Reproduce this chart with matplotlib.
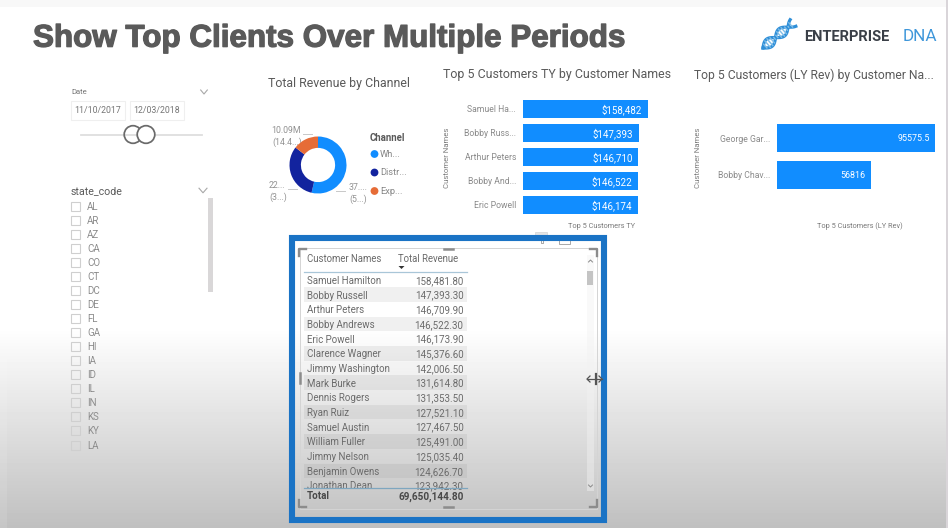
import numpy as np
import matplotlib
matplotlib.use("Agg")
import matplotlib.pyplot as plt
import matplotlib.patheffects as pe
from matplotlib.patches import Rectangle, Circle, Polygon

plt.rcParams['font.family'] = ['Roboto', 'DejaVu Sans']

W, H = 948, 528

# ---------- data ----------
channels = ["Wh...", "Distr...", "Exp..."]
channel_values = [37.36, 22.20, 10.09]
channel_colors = ["#118DFF", "#12239E", "#E66C37"]

ty_names = ["Samuel Ha...", "Bobby Russ...", "Arthur Peters", "Bobby And...", "Eric Powell"]
ty_values = [158482, 147393, 146710, 146522, 146174]
ty_labels = ["$158,482", "$147,393", "$146,710", "$146,522", "$146,174"]

ly_names = ["George Gar...", "Bobby Chav..."]
ly_values = [95575.5, 56816]
ly_labels = ["95575.5", "56816"]

table_names = ["Samuel Hamilton", "Bobby Russell", "Arthur Peters", "Bobby Andrews", "Eric Powell",
               "Clarence Wagner", "Jimmy Washington", "Mark Burke", "Dennis Rogers", "Ryan Ruiz",
               "Samuel Austin", "William Fuller", "Jimmy Nelson", "Benjamin Owens", "Jonathan Dean"]
table_revenue = ["158,481.80", "147,393.30", "146,709.90", "146,522.30", "146,173.90",
                 "145,376.60", "142,006.50", "131,614.80", "131,353.50", "127,521.10",
                 "127,467.50", "125,491.00", "125,035.40", "124,626.70", "123,942.30"]
table_total = "69,650,144.80"

states = ["AL", "AR", "AZ", "CA", "CO", "CT", "DC", "DE", "FL", "GA", "HI", "IA", "ID", "IL", "IN", "KS", "KY", "LA"]

# ---------- canvas in pixel coordinates ----------
fig = plt.figure(figsize=(W / 100, H / 100), dpi=100)
bg = fig.add_axes([0, 0, 1, 1])
bg.set_xlim(0, W)
bg.set_ylim(H, 0)
bg.axis("off")

grad = np.ones((H, 1))
ramp = np.clip((np.arange(H) - 327) / (H - 327), 0, 1)
grad[:, 0] = 1.0 - 0.25 * ramp
bg.imshow(grad, extent=(0, W, H, 0), cmap="gray", vmin=0, vmax=1, aspect="auto", zorder=0)
bg.set_xlim(0, W)
bg.set_ylim(H, 0)
bg.add_patch(Rectangle((0, 0), W, 7, fc="#f8f8f8", ec="none", zorder=0.5))
bg.add_patch(Rectangle((0, 0), 7, H, fc="white", alpha=0.1, ec="none", zorder=0.5))
bg.add_patch(Rectangle((946, 0), 2, H, fc="#d9d5d9", ec="none", zorder=0.5))

GREY = "#757575"


def T(x, y, s, size=7, color=GREY, ha="left", va="center", **kw):
    return bg.text(x, y + 0.9, s, fontsize=size, color=color, ha=ha, va=va, **kw)


def chevron(x, y, w=5, h=3):
    bg.plot([x - w, x, x + w], [y - h, y + h, y - h], color="#a8a8a8", lw=0.8, zorder=3)


# title and logo
T(33, 37.8, "Show Top Clients Over Multiple Periods", size=22.6, color="#5a5a5a",
  family="Liberation Sans", fontweight="bold",
  path_effects=[pe.withStroke(linewidth=0.9, foreground="#5a5a5a")])
T(804, 36, "ENTERPRISE", size=10.5, color="#3a3f47", fontweight="bold")
T(903, 36, "DNA", size=12.3, color="#3f97da")
# DNA icon
t = np.linspace(0, 1, 40)
hx = 763 + 30 * t
hy = 48 - 25 * t
off = 4.6 * np.sin(t * 2 * np.pi * 1.2)
bg.plot(hx + off * 0.65, hy + off * 0.75, color="#2f8fd8", lw=2.3, zorder=3)
bg.plot(hx - off * 0.65, hy - off * 0.75, color="#2f8fd8", lw=2.3, zorder=3)
for i in range(3, 38, 3):
    bg.plot([hx[i] + off[i] * 0.65, hx[i] - off[i] * 0.65],
            [hy[i] + off[i] * 0.75, hy[i] - off[i] * 0.75], color="#7fbde8", lw=1.0, zorder=3)

# date slicer
T(71, 91, "Date", size=5.5)
chevron(204, 92, w=3.3, h=2)
for x0, s in [(71, "11/10/2017"), (130, "12/03/2018")]:
    bg.add_patch(Rectangle((x0, 101), 54, 19, fc="white", ec="#efefef", lw=0.8, zorder=2))
    T(x0 + 27, 110, s, size=6.3, ha="center", zorder=3)
bg.plot([81, 202], [134.5, 134.5], color="#dedede", lw=1.3, zorder=2)
for cx in (133, 146):
    bg.add_patch(Circle((cx, 134.5), 8.8, fc="none" if cx == 133 else "white", ec="#6a6a6a", lw=1.25, zorder=3))

# state slicer
T(71, 190.5, "state_code", size=7.7, color="#5a5a5a")
chevron(203, 190.5, w=4, h=2.3)
bg.add_patch(Rectangle((208, 198), 5.5, 94, fc="#d9d7d8", ec="none", zorder=2))
for i, s in enumerate(states):
    y = 206 + i * 14.06
    bg.add_patch(Rectangle((71.5, y - 4.5), 9, 9, fc="none", ec="#cfcfcf", lw=0.8, zorder=2))
    T(87, y - 0.4, s, size=7, color="#8c8c8c")

# donut labels and legend
T(268, 82.5, "Total Revenue by Channel", size=8.9, color="#5a5a5a")
T(271, 129.5, "10.09M", size=6.3, color="#929292")
T(272, 141, "(14.4...)", size=6.3, color="#929292")
T(269, 184.5, "22...", size=6.3, color="#929292")
T(269, 196, "(3...)", size=6.3, color="#929292")
T(349, 186.5, "37....", size=6.3, color="#929292")
T(349, 198, "(5...)", size=6.3, color="#929292")
for xs, ys in [((303, 312), (134, 134)), ((288, 297), (189, 189)), ((336, 345), (191, 191))]:
    bg.plot(xs, ys, color="#c8c8c8", lw=0.7, zorder=2)
T(370, 137.5, "Channel", size=6.9, color="#5a5a5a", fontweight="bold")
for y, c, s in zip([154, 172.5, 191], channel_colors, channels):
    bg.add_patch(Circle((374.5, y), 3.9, fc=c, ec="none", zorder=3))
    T(380, y - 0.5, s, size=6.7, color="#858585")

T(443, 74, "Top 5 Customers TY by Customer Names", size=8.9, color="#5a5a5a")
T(694, 74, "Top 5 Customers (LY Rev) by Customer Na...", size=8.7, color="#5a5a5a")


def px_axes(x0, y0, x1, y1):
    a = fig.add_axes([x0 / W, 1 - y1 / H, (x1 - x0) / W, (y1 - y0) / H])
    a.patch.set_alpha(0)
    return a


# donut chart
don = px_axes(318 - 28.5, 165 - 28.5, 318 + 28.5, 165 + 28.5)
don.pie(channel_values, colors=channel_colors, startangle=90, counterclock=False, radius=1,
        wedgeprops=dict(width=0.40, linewidth=0))
don.set_xlim(-1, 1)
don.set_ylim(-1, 1)
don.set_aspect("auto")


# bar charts
def bars(a, names, values, labels, xmax, height, label_size):
    pos = np.arange(len(names))
    a.barh(pos, values, height=height, color="#118DFF")
    a.set_xlim(0, xmax)
    a.set_ylim(len(names) - 0.5, -0.5)
    a.set_yticks(pos, names, fontsize=6.2, color="#8a8a8a")
    a.set_xticks([])
    a.tick_params(axis="y", length=0, pad=5)
    for s in a.spines.values():
        s.set_visible(False)
    for p, v, l in zip(pos, values, labels):
        a.annotate(l, (v, p), xytext=(-4.2, -0.6), textcoords="offset points",
                   color="white", fontsize=label_size, ha="right", va="center")


ty = px_axes(523, 97, 656.7, 217)
bars(ty, ty_names, ty_values, ty_labels, 170000, 0.75, 7)
ly = px_axes(776.7, 119.5, 942.7, 193.5)
bars(ly, ly_names, ly_values, ly_labels, 100000, 0.757, 6.4)

T(447, 156.5, "Customer Names", size=5.6, color="#7a7a7a", rotation=90, ha="center")
T(698, 156.5, "Customer Names", size=5.6, color="#7a7a7a", rotation=90, ha="center")
T(601.5, 225.5, "Top 5 Customers TY", size=5.3, color="#7a7a7a", ha="center")
T(860, 225.5, "Top 5 Customers (LY Rev)", size=5.3, color="#7a7a7a", ha="center")

# selected table visual
FR = "#1a73c5"
bg.add_patch(Rectangle((292, 237.5), 312, 282, fc="none", ec=FR, lw=4.4, zorder=4))
bg.add_patch(Rectangle((300, 248), 297, 261, fc="none", ec="#d4d4d4", lw=0.7, zorder=3))
bg.add_patch(Rectangle((535.5, 232), 12, 2.5, fc="#e4e4e4", ec="#cccccc", lw=0.4, zorder=3))
bg.plot([541, 541, 543, 543], [238, 243, 243, 238], color="#9a9a9a", lw=0.6, zorder=3)
bg.add_patch(Rectangle((559, 238), 11, 5.5, fc="none", ec="#9a9a9a", lw=0.6, zorder=3))

T(307, 258.5, "Customer Names", size=6.9, color="#6b6b6b")
T(398, 258.5, "Total Revenue", size=6.9, color="#6b6b6b")
bg.add_patch(Polygon([(398.5, 266), (404.5, 266), (401.5, 269)], closed=True, fc="#333333", ec="none", zorder=3))
bg.plot([304, 467], [272, 272], color="#a9c6d8", lw=0.9, zorder=3)

ROW0, PITCH = 280, 14.68
clip = Rectangle((300, 272), 170, 215.5, transform=bg.transData)
for i, (n, r) in enumerate(zip(table_names, table_revenue)):
    y = ROW0 + i * PITCH
    if i % 2 == 1:
        bg.add_patch(Rectangle((304, y - PITCH / 2), 163, PITCH, fc="#6f6f6f", alpha=0.1, ec="none", zorder=1))
    for tx in (T(307, y, n, size=7, color="#6b6b6b"),
               T(463.5, y, r, size=7, color="#6b6b6b", ha="right")):
        tx.set_clip_path(clip)
bg.plot([304, 467], [488, 488], color="#7ea6bf", lw=0.9, zorder=3)
T(307, 495.5, "Total", size=7, color="#484848", fontweight="bold")
T(463.5, 495.5, table_total, size=7.2, color="#484848", ha="right", fontweight="bold")

# scrollbar, resize cursor and handles
bg.add_patch(Rectangle((587, 255), 7, 236, fc="#f2f2f2", alpha=0.45, ec="none", zorder=2))
bg.add_patch(Rectangle((587.5, 271), 6, 14, fc="#c4c4c4", ec="none", zorder=3))
bg.plot([588.5, 590.5, 592.5], [262, 260, 262], color="#8a8a8a", lw=0.7, zorder=3)
bg.plot([588.5, 590.5, 592.5], [485, 487, 485], color="#8a8a8a", lw=0.7, zorder=3)
bg.plot([587, 602], [379, 379], color="#555555", lw=0.9, zorder=6)
bg.plot([596, 596], [374, 384], color="#555555", lw=1.6, zorder=6)
bg.plot([590, 587, 590], [376, 379, 382], color="#555555", lw=0.9, zorder=6)
bg.plot([599, 602, 599], [376, 379, 382], color="#555555", lw=0.9, zorder=6)
HC = "#8c8c8c"
for xs, ys in [((299, 299, 306), (256, 249, 249)), ((590, 597, 597), (249, 249, 256)),
               ((299, 299, 306), (500, 507, 507)), ((590, 597, 597), (507, 507, 500))]:
    bg.plot(xs, ys, color=HC, lw=1.7, zorder=4)
for xs, ys in [((444, 453), (248.5, 248.5)), ((444, 453), (506.5, 506.5)),
               ((300, 300), (373, 383))]:
    bg.plot(xs, ys, color=HC, lw=1.8, zorder=4)

fig.savefig("out.png", dpi=100)
